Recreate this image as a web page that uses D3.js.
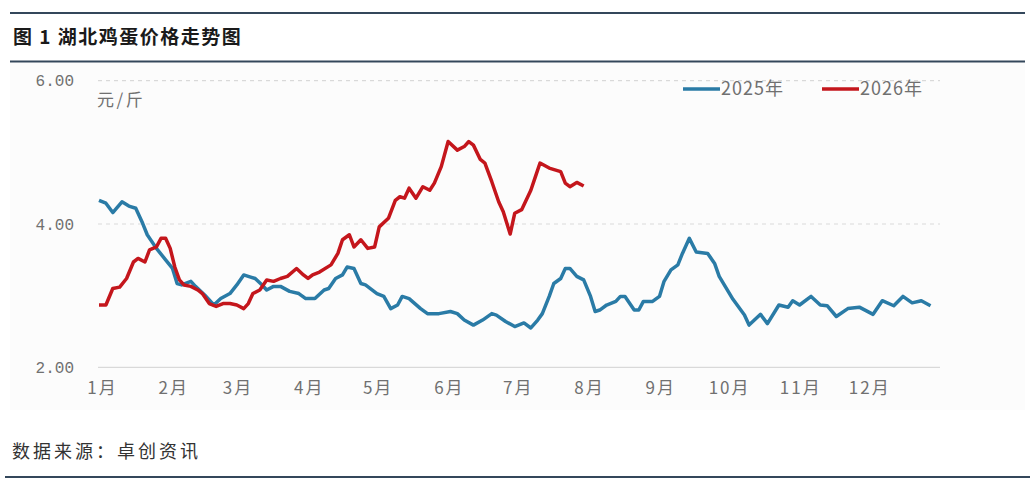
<!DOCTYPE html>
<html>
<head>
<meta charset="utf-8">
<script src="https://cdn.jsdelivr.net/npm/d3@7"></script>
<style>
	body { margin: 0; background: #fff; }
	svg { display: block; }
</style>
</head>
<body>
<div id="chart"></div>
<script>
// day of year / price (元/斤)
var days2025 = [0,3,6,10,13,16,19,21,25,29,32,34,36,40,42,46,50,53,57,60,63,66,68,71,73,76,79,83,87,90,94,98,100,103,106,108,111,114,116,121,124,127,130,132,135,140,143,148,153,156,159,163,167,171,173,177,181,185,188,191,193,196,198,201,203,205,208,211,214,216,218,221,225,227,229,233,235,237,241,244,246,249,252,254,257,260,265,268,270,276,281,283,288,291,296,300,302,305,310,314,317,321,326,331,337,341,346,350,354,358,362];
var price2025 = [4.33,4.29,4.16,4.31,4.25,4.22,4.01,3.85,3.66,3.50,3.38,3.17,3.15,3.20,3.13,3.01,2.87,2.96,3.03,3.15,3.29,3.26,3.24,3.15,3.08,3.13,3.13,3.06,3.03,2.96,2.96,3.08,3.10,3.24,3.29,3.40,3.38,3.17,3.15,3.03,2.99,2.82,2.87,2.99,2.96,2.82,2.75,2.75,2.78,2.75,2.66,2.59,2.66,2.75,2.73,2.64,2.57,2.62,2.55,2.66,2.75,2.99,3.17,3.24,3.38,3.38,3.27,3.22,2.99,2.78,2.80,2.87,2.92,2.99,2.99,2.80,2.80,2.92,2.92,2.99,3.20,3.36,3.43,3.59,3.80,3.61,3.59,3.45,3.27,2.95,2.73,2.59,2.74,2.61,2.87,2.84,2.93,2.87,2.99,2.87,2.86,2.71,2.82,2.84,2.74,2.93,2.86,2.99,2.90,2.93,2.86];
var days2026 = [0,3,6,9,12,15,17,20,22,25,27,29,31,33,35,37,40,43,45,48,51,54,57,60,63,65,67,70,73,76,79,82,86,89,91,93,96,101,104,106,109,111,114,117,120,122,126,129,131,133,135,138,141,144,146,149,152,156,159,161,163,166,168,171,174,176,179,181,184,188,190,192,196,201,203,205,208,211];
var price2026 = [2.87,2.87,3.10,3.12,3.24,3.47,3.52,3.47,3.64,3.68,3.80,3.80,3.66,3.40,3.22,3.15,3.13,3.08,3.03,2.89,2.85,2.89,2.89,2.87,2.82,2.89,3.03,3.08,3.22,3.20,3.24,3.27,3.38,3.29,3.24,3.29,3.33,3.43,3.59,3.78,3.85,3.68,3.78,3.66,3.68,3.96,4.08,4.33,4.38,4.36,4.50,4.36,4.52,4.47,4.57,4.80,5.15,5.03,5.08,5.15,5.10,4.90,4.85,4.59,4.31,4.17,3.86,4.15,4.20,4.47,4.66,4.85,4.78,4.73,4.57,4.52,4.58,4.53];
var monthStarts = [0,31,59,90,120,151,181,212,243,273,304,334];
var monthLabels = ["1月","2月","3月","4月","5月","6月","7月","8月","9月","10月","11月","12月"];
var yTicks = [2,4,6];
var seriesNames = ["2025年","2026年"];

var W = 1035, H = 491;
var colors = ["#2a7ba6","#c4161c"];
var latin = "'Liberation Mono', 'DejaVu Sans Mono', monospace";
var cjk = "'Noto Sans CJK SC', sans-serif";

var svg = d3.select("#chart").append("svg")
	.attr("width", W).attr("height", H);

svg.append("rect").attr("width", W).attr("height", H).attr("fill", "#fff");
svg.append("rect").attr("x", 10).attr("y", 63).attr("width", 1015).attr("height", 347).attr("fill", "#fcfcfc");

// frame lines
function rule(y, x1, x2, w){
	svg.append("line").attr("x1", x1).attr("x2", x2).attr("y1", y).attr("y2", y)
		.attr("stroke", "#34475b").attr("stroke-width", w);
}
rule(13, 10, 1025, 2);
rule(61.5, 10, 1025, 2);
rule(477, 5, 1030, 2);

svg.append("text").attr("x", 13).attr("y", 44)
	.style("font-family", cjk).style("font-size", "19px").style("font-weight", "bold")
	.style("letter-spacing", "1.5px")
	.style("fill", "#1a1a1a").text("图 1 湖北鸡蛋价格走势图");

svg.append("text").attr("x", 12).attr("y", 458)
	.style("font-family", cjk).style("font-size", "18px").style("letter-spacing", "3px")
	.style("fill", "#333").text("数据来源：卓创资讯");

var x = d3.scaleLinear().domain([0, 365]).range([99, 99 + 365 * 2.297]);
var y = d3.scaleLinear().domain([2, 6]).range([367.4, 80.6]);

// grid
var g = svg.append("g");
g.selectAll("line.grid").data(yTicks).enter().append("line")
	.attr("class", "grid")
	.attr("x1", 98).attr("x2", 940)
	.attr("y1", function(d){ return y(d); }).attr("y2", function(d){ return y(d); })
	.attr("stroke", "#d9d9d9").attr("stroke-width", 1.2)
	.attr("stroke-dasharray", function(d){ return d == 2 ? null : "4,4"; });

// axes
var yAxis = svg.append("g").attr("transform", "translate(98,0)")
	.call(d3.axisLeft(y).tickValues(yTicks).tickFormat(d3.format(".2f")).tickSize(0).tickPadding(24));
yAxis.select(".domain").remove();
yAxis.selectAll("text").style("font-family", latin).style("font-size", "16px").style("fill", "#707070");

var xAxis = svg.append("g").attr("transform", "translate(3,367.4)")
	.call(d3.axisBottom(x).tickValues(monthStarts)
		.tickFormat(function(d, i){ return monthLabels[i]; }).tickSize(0).tickPadding(15));
xAxis.select(".domain").remove();
xAxis.selectAll("text").style("font-family", cjk).style("font-size", "17px")
	.style("letter-spacing", "2px").style("fill", "#707070");

svg.append("text").attr("x", 97).attr("y", 106)
	.style("font-family", cjk).style("font-size", "17px").style("letter-spacing", "2.5px")
	.style("fill", "#707070").text("元/斤");

// lines
var line = d3.line()
	.x(function(d){ return x(d[0]); })
	.y(function(d){ return y(d[1]); });
var series = [d3.zip(days2025, price2025), d3.zip(days2026, price2026)];
svg.selectAll("path.series").data(series).enter().append("path")
	.attr("class", "series")
	.attr("d", line)
	.attr("fill", "none")
	.attr("stroke", function(d, i){ return colors[i]; })
	.attr("stroke-width", 3.5)
	.attr("stroke-linejoin", "round");

// legend
var legX = [683, 822];
var leg = svg.selectAll("g.leg").data(seriesNames).enter().append("g")
	.attr("class", "leg")
	.attr("transform", function(d, i){ return "translate(" + legX[i] + ",89)"; });
leg.append("line").attr("x1", 0).attr("x2", 37).attr("y1", 0).attr("y2", 0)
	.attr("stroke", function(d, i){ return colors[i]; }).attr("stroke-width", 3.5);
leg.append("text").attr("x", 38).attr("y", 6)
	.style("font-family", cjk).style("font-size", "18px").style("letter-spacing", "1px")
	.style("fill", "#707070")
	.text(function(d){ return d; });
</script>
</body>
</html>
